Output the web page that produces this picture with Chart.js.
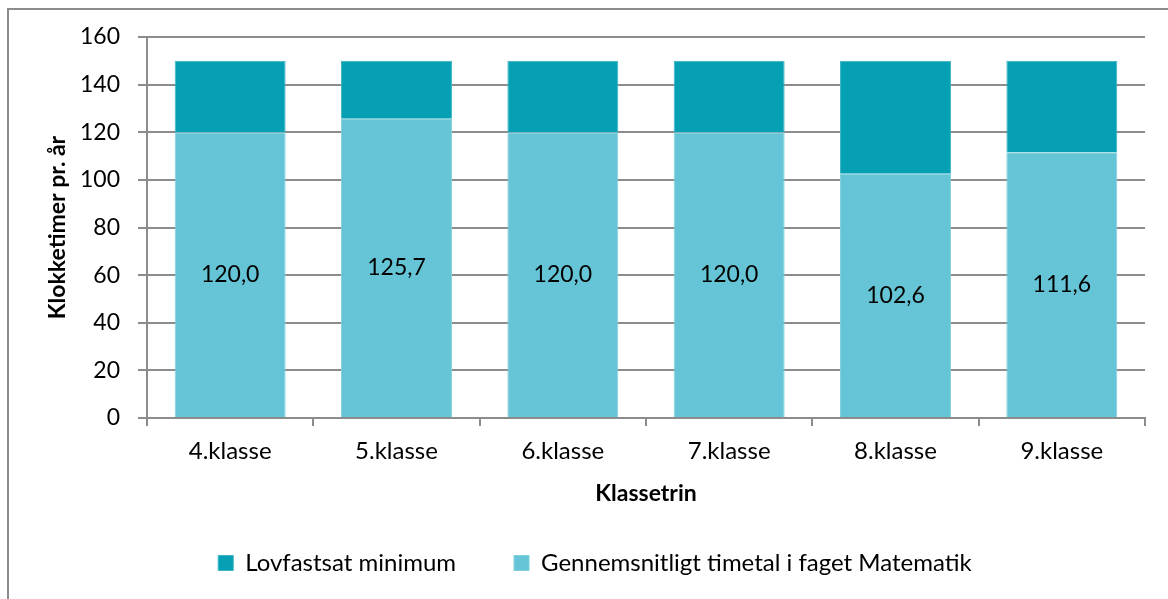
<!DOCTYPE html>
<html>
<head>
<meta charset="utf-8">
<script src="https://cdn.jsdelivr.net/npm/chart.js@4"></script>
<style>
  html, body { margin: 0; padding: 0; background: #fff; }
  #wrap { width: 1168px; height: 599px; }
</style>
</head>
<body>
<div id="wrap"><canvas id="myChart" width="1168" height="599"></canvas></div>
<script>
// data
const categories = ['4.klasse', '5.klasse', '6.klasse', '7.klasse', '8.klasse', '9.klasse'];
const average = [120.0, 125.7, 120.0, 120.0, 102.6, 111.6];
const minimum = [150, 150, 150, 150, 150, 150];
const yTicks = [0, 20, 40, 60, 80, 100, 120, 140, 160];

// top segment = gap between average and the legal minimum
const gap = minimum.map((m, i) => m - average[i]);

const FONT = 'Lato, "Liberation Sans", sans-serif';

// value labels in the middle of the lower bars
const valueLabels = {
    id: 'valueLabels',
    afterDatasetsDraw(chart) {
        const ctx = chart.ctx;
        const meta = chart.getDatasetMeta(0);
        ctx.save();
        ctx.font = '23px ' + FONT;
        ctx.fillStyle = '#000';
        ctx.textAlign = 'center';
        ctx.textBaseline = 'middle';
        meta.data.forEach((bar, i) => {
            const y = (bar.y + bar.base) / 2;
            ctx.fillText(average[i].toFixed(1).replace('.', ','), bar.x, y);
        });
        ctx.restore();
    }
};

// outer frame
const frame = {
    id: 'frame',
    afterDraw(chart) {
        const ctx = chart.ctx;
        ctx.save();
        ctx.strokeStyle = '#8c8c8c';
        ctx.lineWidth = 2;
        ctx.strokeRect(8, 9, 1180, 620);
        ctx.restore();
    }
};

const ctx = document.getElementById('myChart').getContext('2d');

const config = {
    type: 'bar',
    data: {
        labels: categories,
        datasets: [{
            label: 'Gennemsnitligt timetal i faget Matematik',
            data: average,
            backgroundColor: '#65c4d5',
            borderColor: '#7fd0de',
            borderWidth: 1,
            categoryPercentage: 0.667,
            barPercentage: 1.0
        }, {
            label: 'Lovfastsat minimum',
            data: gap,
            backgroundColor: '#05a0b3',
            borderColor: '#3ab4c4',
            borderWidth: 1,
            categoryPercentage: 0.667,
            barPercentage: 1.0
        }]
    },
    options: {
        responsive: false,
        animation: false,
        layout: {
            // wide left padding keeps the legend centred like the original
            padding: { left: 45, right: 23, top: 37, bottom: 14 }
        },
        scales: {
            x: {
                stacked: true,
                grid: {
                    offset: true,
                    drawOnChartArea: false,
                    color: '#8c8c8c',
                    lineWidth: 2,
                    tickLength: 8
                },
                border: { color: '#8c8c8c', width: 2 },
                ticks: {
                    color: '#000',
                    font: { family: FONT, size: 24 },
                    padding: 11
                },
                title: {
                    display: true,
                    text: 'Klassetrin',
                    color: '#000',
                    font: { family: FONT, size: 23, weight: 'bold' },
                    padding: { top: 0, bottom: -14 }
                },
                afterFit(scale) { scale.height = 75; }
            },
            y: {
                stacked: true,
                min: 0,
                max: 160,
                afterBuildTicks(scale) {
                    scale.ticks = yTicks.map(v => ({ value: v }));
                },
                grid: {
                    color: '#8c8c8c',
                    lineWidth: 2,
                    tickLength: 9
                },
                border: { color: '#8c8c8c', width: 2 },
                ticks: {
                    color: '#000',
                    font: { family: FONT, size: 23 },
                    padding: 18
                },
                title: {
                    display: true,
                    text: 'Klokketimer pr. år',
                    color: '#000',
                    font: { family: FONT, size: 23, weight: 'bold' },
                    padding: { top: -1, bottom: 0 }
                },
                afterFit(scale) { scale.width = 102; }
            }
        },
        plugins: {
            legend: {
                position: 'bottom',
                reverse: true,
                labels: {
                    color: '#000',
                    font: { family: FONT, size: 24 },
                    boxWidth: 15,
                    boxHeight: 15,
                    padding: 58
                }
            },
            tooltip: { enabled: false }
        }
    },
    plugins: [valueLabels, frame]
};

const myChart = new Chart(ctx, config);
</script>
</body>
</html>
